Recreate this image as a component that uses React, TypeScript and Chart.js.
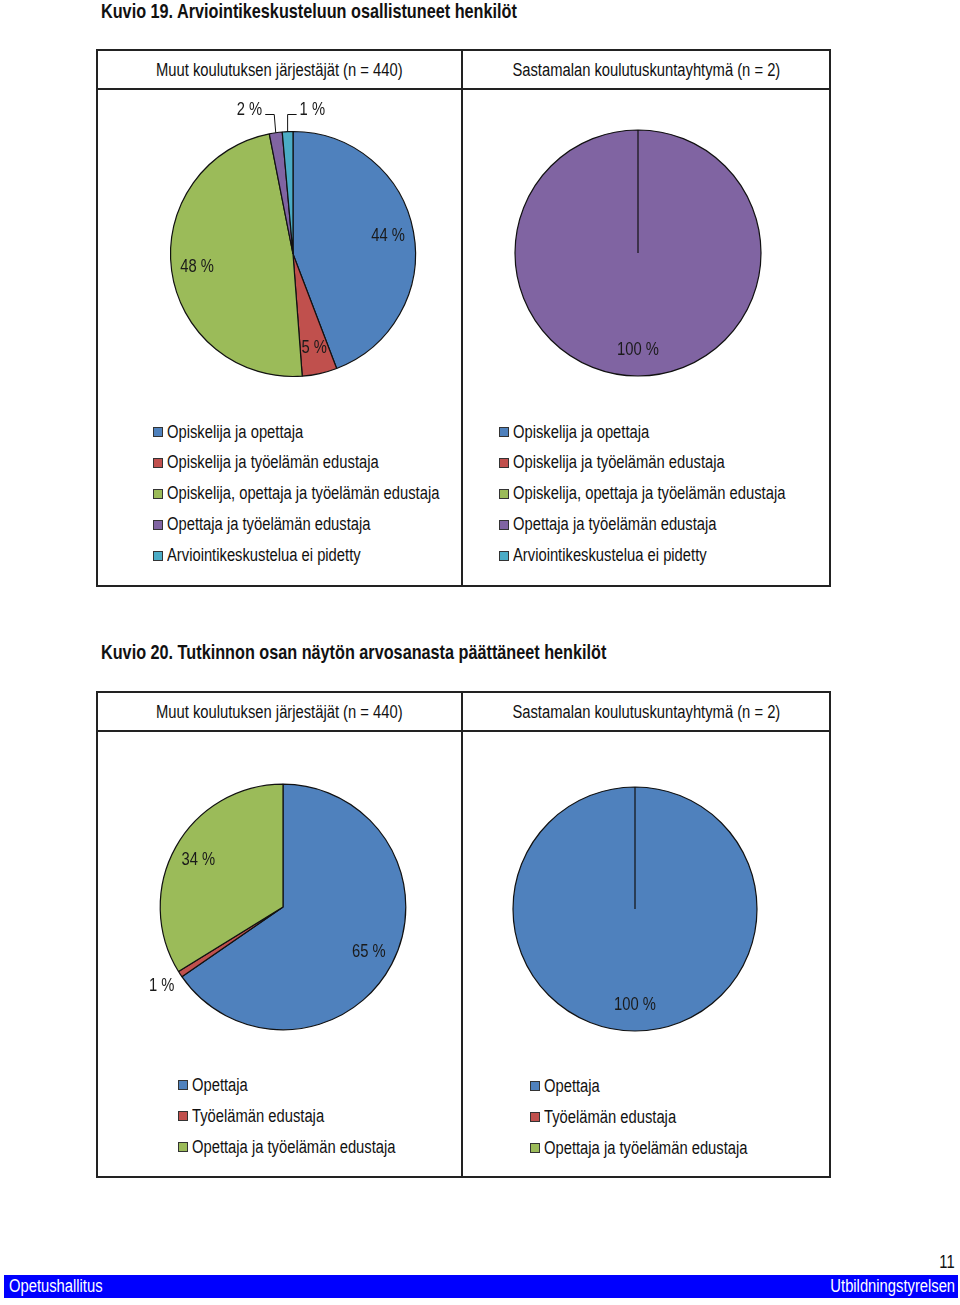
import React, { useEffect, useRef } from 'react';
import { Chart, registerables } from 'chart.js';

Chart.register(...registerables);

const FONT = '"Liberation Sans", Arial, "Helvetica", sans-serif';
const NARROW = 0.82;

// ---- Data ----
const fig19Title = 'Kuvio 19. Arviointikeskusteluun osallistuneet henkilöt';
const fig20Title = 'Kuvio 20. Tutkinnon osan näytön arvosanasta päättäneet henkilöt';
const groupTitles = ['Muut koulutuksen järjestäjät (n = 440)', 'Sastamalan koulutuskuntayhtymä (n = 2)'];

const fig19Categories = [
  'Opiskelija ja opettaja',
  'Opiskelija ja työelämän edustaja',
  'Opiskelija, opettaja ja työelämän edustaja',
  'Opettaja ja työelämän edustaja',
  'Arviointikeskustelua ei pidetty',
];
const fig19Colors = ['#4F81BD', '#C0504D', '#9BBB59', '#8064A2', '#4BACC6'];
const fig19Muut = [44.2, 4.6, 48.1, 1.7, 1.4];
const fig19Sastamala = [0, 0, 0, 100, 0];
const fig19MuutLabelModes = ['in', 'in', 'in', 'leaderLeft', 'leaderRight'];

const fig20Categories = ['Opettaja', 'Työelämän edustaja', 'Opettaja ja työelämän edustaja'];
const fig20Colors = ['#4F81BD', '#C0504D', '#9BBB59'];
const fig20Muut = [65.4, 0.8, 33.8];
const fig20Sastamala = [100, 0, 0];
const fig20MuutLabelModes = ['in', 'out', 'in'];

const footerLeft = 'Opetushallitus';
const footerRight = 'Utbildningstyrelsen';
const pageNumber = '11';

// ---- Label plugin ----
function narrowText(ctx: CanvasRenderingContext2D, text: string, x: number, y: number, align: CanvasTextAlign) {
  ctx.save();
  ctx.translate(x, y);
  ctx.scale(NARROW, 1);
  ctx.textAlign = align;
  ctx.textBaseline = 'middle';
  ctx.fillText(text, 0, 0);
  ctx.restore();
}

const pieLabels = {
  id: 'pieLabels',
  afterDatasetsDraw(chart: any, _args: any, opts: any) {
    const ctx = chart.ctx as CanvasRenderingContext2D;
    const meta = chart.getDatasetMeta(0);
    const data = chart.data.datasets[0].data as number[];
    const total = data.reduce((a, b) => a + b, 0);
    const modes: string[] = opts.modes || [];
    ctx.save();
    ctx.font = `18px ${FONT}`;
    ctx.fillStyle = '#1a1a1a';
    ctx.strokeStyle = '#111';
    ctx.lineWidth = 1;
    meta.data.forEach((arc: any, i: number) => {
      const v = data[i];
      if (!v) return;
      const { x, y, startAngle, endAngle, outerRadius } = arc.getProps(
        ['x', 'y', 'startAngle', 'endAngle', 'outerRadius'],
        true
      );
      const mid = (startAngle + endAngle) / 2;
      const text = `${Math.round((v / total) * 100)} %`;
      const mode = modes[i] || 'in';
      if (mode === 'in' || mode === 'out') {
        const f = mode === 'in' ? 0.79 : 1.18;
        narrowText(ctx, text, x + Math.cos(mid) * outerRadius * f, y + Math.sin(mid) * outerRadius * f, 'center');
      } else {
        const dir = mode === 'leaderLeft' ? -1 : 1;
        const ax = x + Math.cos(mid) * outerRadius;
        const ay = y + Math.sin(mid) * outerRadius;
        const ey = y - outerRadius - 17;
        const ex = ax + (dir < 0 ? -1.5 : 0);
        const hx = ex + dir * 9;
        ctx.beginPath();
        ctx.moveTo(ax, ay);
        ctx.lineTo(ex, ey);
        ctx.lineTo(hx, ey);
        ctx.stroke();
        narrowText(ctx, text, hx + dir * 3, ey - 4, dir < 0 ? 'right' : 'left');
      }
    });
    ctx.restore();
  },
};

type PieProps = {
  values: number[];
  labels: string[];
  colors: string[];
  modes?: string[];
  cx: number;
  cy: number;
  r: number;
};

const CANVAS = 320;

function Pie({ values, labels, colors, modes, cx, cy, r }: PieProps) {
  const ref = useRef<HTMLCanvasElement | null>(null);
  useEffect(() => {
    if (!ref.current) return;
    const chart = new Chart(ref.current, {
      type: 'pie',
      data: {
        labels,
        datasets: [
          {
            data: values,
            backgroundColor: colors,
            borderColor: '#111',
            borderWidth: 1.2,
          },
        ],
      },
      options: {
        animation: false,
        responsive: false,
        events: [],
        radius: r,
        layout: { padding: 0 },
        plugins: {
          legend: { display: false },
          tooltip: { enabled: false },
          // @ts-ignore
          pieLabels: { modes: modes || [] },
        },
      } as any,
      plugins: [pieLabels as any],
    });
    return () => chart.destroy();
  }, []);
  return (
    <canvas
      ref={ref}
      width={CANVAS}
      height={CANVAS}
      style={{
        position: 'absolute',
        left: cx - CANVAS / 2,
        top: cy - CANVAS / 2,
        width: CANVAS,
        height: CANVAS,
      }}
    />
  );
}

type TextProps = {
  text: string;
  size?: number;
  bold?: boolean;
  color?: string;
  scale?: number;
  left?: number;
  right?: number;
  width?: number;
  cy: number;
  align?: 'left' | 'right' | 'center';
};

function NText({ text, size = 18, bold = false, color = '#111', scale = NARROW, left, right, width, cy, align = 'left' }: TextProps) {
  const h = Math.round(size * 1.3);
  const outer: React.CSSProperties = {
    position: 'absolute',
    top: cy - h / 2,
    height: h,
    lineHeight: `${h}px`,
    whiteSpace: 'nowrap',
    textAlign: align,
  };
  if (left !== undefined) outer.left = left;
  if (right !== undefined) outer.right = right;
  if (width !== undefined) outer.width = width;
  return (
    <div style={outer}>
      <span
        style={{
          display: 'inline-block',
          fontFamily: FONT,
          fontSize: size,
          fontWeight: bold ? 700 : 400,
          color,
          transform: `scaleX(${scale})`,
          transformOrigin: align === 'left' ? 'left center' : align === 'right' ? 'right center' : 'center center',
        }}
      >
        {text}
      </span>
    </div>
  );
}

const LINE = '#222';

function Frame({ top, headerY, bottom }: { top: number; headerY: number; bottom: number }) {
  const left = 97;
  const right = 830;
  const mid = 462;
  const line = (l: number, t: number, w: number, h: number, key: string) => (
    <div key={key} style={{ position: 'absolute', left: l, top: t, width: w, height: h, background: LINE }} />
  );
  return (
    <>
      {line(left - 1, top - 1, right - left + 2, 2, 't')}
      {line(left - 1, bottom - 1, right - left + 2, 2, 'b')}
      {line(left - 1, top - 1, 2, bottom - top + 2, 'l')}
      {line(right - 1, top - 1, 2, bottom - top + 2, 'r')}
      {line(left - 1, headerY - 1, right - left + 2, 2, 'h')}
      {line(mid - 1, top - 1, 2, bottom - top + 2, 'm')}
      <NText text={groupTitles[0]} left={left} width={mid - left} cy={(top + headerY) / 2 + 0.5} align="center" />
      <NText text={groupTitles[1]} left={mid} width={right - mid} cy={(top + headerY) / 2 + 0.5} align="center" />
    </>
  );
}

function Legend({ items, colors, boxLeft, firstY, step }: { items: string[]; colors: string[]; boxLeft: number; firstY: number; step: number }) {
  return (
    <>
      {items.map((t, i) => (
        <React.Fragment key={i}>
          <div
            style={{
              position: 'absolute',
              left: boxLeft,
              top: firstY + i * step - 5,
              width: 8,
              height: 8,
              background: colors[i],
              border: '1px solid #333',
            }}
          />
          <NText text={t} left={boxLeft + 13.5} cy={firstY + i * step} />
        </React.Fragment>
      ))}
    </>
  );
}

export default function App() {
  return (
    <div style={{ position: 'absolute', left: 0, top: 0, width: 960, height: 1305, background: '#fff', overflow: 'hidden' }}>
      <NText text={fig19Title} bold size={19.8} left={101} cy={11} />
      <Frame top={50} headerY={89} bottom={586} />
      <Pie values={fig19Muut} labels={fig19Categories} colors={fig19Colors} modes={fig19MuutLabelModes} cx={292.5} cy={253.5} r={122.5} />
      <Pie values={fig19Sastamala} labels={fig19Categories} colors={fig19Colors} cx={638} cy={253} r={123} />
      <Legend items={fig19Categories} colors={fig19Colors} boxLeft={153} firstY={432} step={30.9} />
      <Legend items={fig19Categories} colors={fig19Colors} boxLeft={499} firstY={432} step={30.9} />

      <NText text={fig20Title} bold size={19.8} left={101} cy={652} />
      <Frame top={692} headerY={731} bottom={1177} />
      <Pie values={fig20Muut} labels={fig20Categories} colors={fig20Colors} modes={fig20MuutLabelModes} cx={283.2} cy={906.5} r={122.8} />
      <Pie values={fig20Sastamala} labels={fig20Categories} colors={fig20Colors} cx={635} cy={909} r={122} />
      <Legend items={fig20Categories} colors={fig20Colors} boxLeft={178} firstY={1085} step={31} />
      <Legend items={fig20Categories} colors={fig20Colors} boxLeft={530} firstY={1086} step={31} />

      <NText text={pageNumber} right={5} cy={1262} align="right" />
      <div style={{ position: 'absolute', left: 4, top: 1275, width: 954, height: 23, background: '#0000FF' }} />
      <NText text={footerLeft} color="#fff" left={9} cy={1286} />
      <NText text={footerRight} color="#fff" right={5} cy={1286} align="right" />
    </div>
  );
}
